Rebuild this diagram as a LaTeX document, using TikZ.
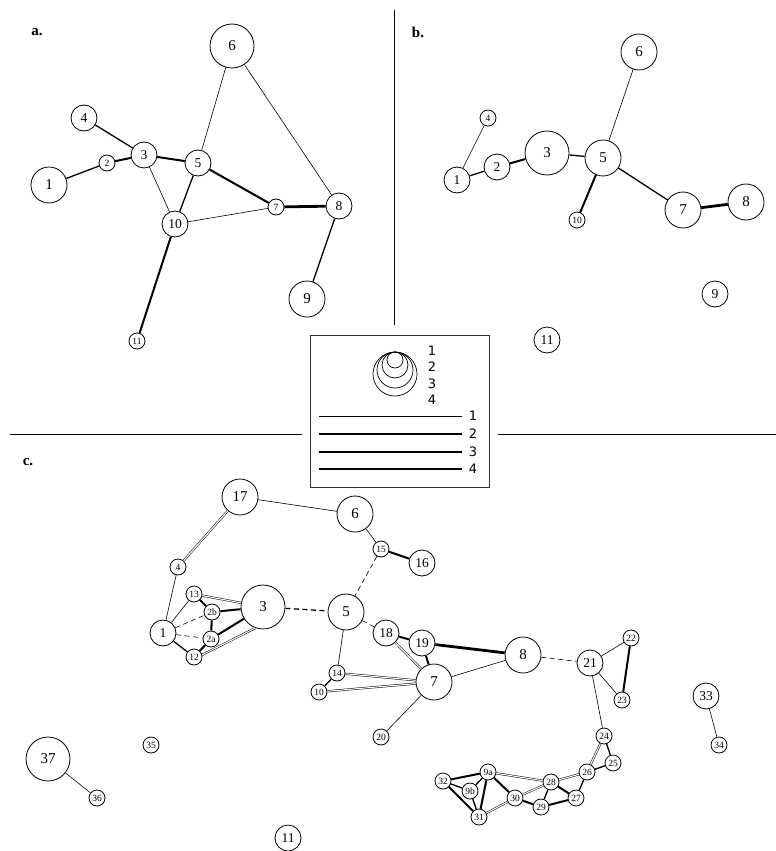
\documentclass[tikz,border=0pt]{standalone}
\usepackage{fontspec}
\setmainfont{Liberation Serif}
\newfontfamily\legendfont{DejaVu Sans}
\begin{document}
\begin{tikzpicture}[x=1pt,y=-1pt,
 nd/.style={circle,draw,line width=0.8pt,inner sep=0pt,fill=white},
 sa/.style={nd,minimum size=16pt,font=\fontsize{9.5}{10}\selectfont},
 sb/.style={nd,minimum size=26pt,font=\fontsize{13.5}{14}\selectfont},
 sc/.style={nd,minimum size=36pt,font=\fontsize{15}{15}\selectfont},
 sd/.style={nd,minimum size=44pt,font=\fontsize{15}{15}\selectfont},
 wa/.style={line width=0.6pt},
 wb/.style={line width=1.3pt},
 wc/.style={line width=2pt},
 wd/.style={line width=2.8pt},
 dbl/.style={double=white,double distance=1.1pt,line width=0.5pt},
 dsh/.style={dash pattern=on 5pt off 3.5pt},
 plabel/.style={font=\bfseries\fontsize{15}{15}\selectfont},
 legnum/.style={font=\legendfont\fontsize{13}{13}\selectfont,inner sep=0pt}
]
\fill[white] (0,0) rectangle (776,851);
\useasboundingbox (0,0) rectangle (776,851);

% dividers
\draw[line width=0.8pt] (394,10) -- (394,325);
\draw[line width=0.8pt] (10,434) -- (302,434);
\draw[line width=0.8pt] (498,434) -- (776,434);

% panel labels
\node[plabel] (la) at (37,32) {a.};
\node[plabel] (lb) at (418,32) {b.};
\node[plabel] (lc) at (28,462) {c.};

% ---------- panel a ----------
\node[sc] (a1) at (49,185) {1};
\node[sa] (a2) at (107,163) {2};
\node[sb] (a3) at (144,155) {3};
\node[sb] (a4) at (84,118) {4};
\node[sb] (a5) at (198,163) {5};
\node[sd] (a6) at (232,46) {6};
\node[sa] (a7) at (276,207) {7};
\node[sb] (a8) at (339,206) {8};
\node[sc] (a9) at (307,299) {9};
\node[sb] (a10) at (175,224) {10};
\node[sa] (a11) at (137,341) {11};
\draw[wb] (a1) -- (a2);
\draw[wc] (a2) -- (a3);
\draw[wb] (a4) -- (a3);
\draw[wc] (a3) -- (a5);
\draw[wa] (a3) -- (a10);
\draw[wa] (a5) -- (a6);
\draw[wc] (a5) -- (a7);
\draw[wb] (a5) -- (a10);
\draw[wa] (a10) -- (a7);
\draw[wd] (a7) -- (a8);
\draw[wa] (a6) -- (a8);
\draw[wb] (a8) -- (a9);
\draw[wc] (a10) -- (a11);

% ---------- panel b ----------
\node[sb] (b1) at (457,180) {1};
\node[sb] (b2) at (497,167) {2};
\node[sd] (b3) at (547,153) {3};
\node[sa] (b4) at (488,118) {4};
\node[sc] (b5) at (603,158) {5};
\node[sc] (b6) at (639,52) {6};
\node[sc] (b7) at (683,210) {7};
\node[sc] (b8) at (746,202) {8};
\node[sb] (b9) at (715,294) {9};
\node[sa] (b10) at (577,220) {10};
\node[sb] (b11) at (547,340) {11};
\draw[wa] (b1) -- (b4);
\draw[wb] (b1) -- (b2);
\draw[wc] (b2) -- (b3);
\draw[wb] (b3) -- (b5);
\draw[wa] (b5) -- (b6);
\draw[wc] (b5) -- (b10);
\draw[wb] (b5) -- (b7);
\draw[wd] (b7) -- (b8);

% ---------- legend ----------
\draw[line width=1pt,black!80] (310,335) rectangle (489,487);
\foreach \r in {22,18,13,8} \draw[line width=0.7pt] (395,352+\r) circle[radius=\r];
\node[legnum] (g1) at (432,351) {1};
\node[legnum] (g2) at (432,367) {2};
\node[legnum] (g3) at (432,384) {3};
\node[legnum] (g4) at (432,400) {4};
\coordinate (l1a) at (319,416); \coordinate (l1b) at (462,416);
\coordinate (l2a) at (319,434); \coordinate (l2b) at (462,434);
\coordinate (l3a) at (319,452); \coordinate (l3b) at (462,452);
\coordinate (l4a) at (319,469); \coordinate (l4b) at (462,469);
\draw[wa] (l1a) -- (l1b);
\draw[wb] (l2a) -- (l2b);
\draw[wc] (l3a) -- (l3b);
\draw[wd] (l4a) -- (l4b);
\node[legnum] (h1) at (473,416) {1};
\node[legnum] (h2) at (473,434) {2};
\node[legnum] (h3) at (473,452) {3};
\node[legnum] (h4) at (473,469) {4};

% ---------- panel c ----------
\node[sc] (c17) at (240,497) {17};
\node[sc] (c6) at (355,514) {6};
\node[sa] (c15) at (381,549) {15};
\node[sb] (c16) at (422,563) {16};
\node[sa] (c4) at (178,567) {4};
\node[sa] (c13) at (194,594) {13};
\node[sa] (c2b) at (212,612) {2b};
\node[sd] (c3) at (263,607) {3};
\node[sc] (c5) at (346,612) {5};
\node[sb] (c1) at (163,633) {1};
\node[sa] (c2a) at (211,639) {2a};
\node[sa] (c12) at (194,657) {12};
\node[sb] (c18) at (386,633) {18};
\node[sb] (c19) at (422,643) {19};
\node[sc] (c8) at (523,655) {8};
\node[sb] (c21) at (590,663) {21};
\node[sa] (c22) at (631,638) {22};
\node[sa] (c14) at (337,673) {14};
\node[sa] (c10) at (319,692) {10};
\node[sc] (c7) at (434,682) {7};
\node[sa] (c20) at (381,737) {20};
\node[sa] (c23) at (622,700) {23};
\node[sb] (c33) at (706,696) {33};
\node[sa] (c34) at (719,745) {34};
\node[sa] (c24) at (604,736) {24};
\node[sa] (c25) at (613,763) {25};
\node[sa] (c26) at (587,772) {26};
\node[sa] (c27) at (576,798) {27};
\node[sa] (c28) at (551,782) {28};
\node[sa] (c29) at (541,807) {29};
\node[sa] (c30) at (515,798) {30};
\node[sa] (c9a) at (488,772) {9a};
\node[sa] (c9b) at (470,791) {9b};
\node[sa] (c32) at (443,781) {32};
\node[sa] (c31) at (479,817) {31};
\node[sd] (c37) at (48,759) {37};
\node[sa] (c36) at (97,798) {36};
\node[sa] (c35) at (151,745) {35};
\node[sb] (c11) at (288,838) {11};

\draw[wa] (c17) -- (c6);
\draw[dbl] (c17) -- (c4);
\draw[wa] (c4) -- (c1);
\draw[wa] (c6) -- (c15);
\draw[wc] (c15) -- (c16);
\draw[wa,dsh] (c15) -- (c5);
\draw[wb,dsh] (c3) -- (c5);
\draw[wa] (c1) -- (c13);
\draw[wb] (c1) -- (c12);
\draw[wa,dsh] (c1) -- (c2b);
\draw[wa,dsh] (c1) -- (c2a);
\draw[wc] (c13) -- (c2b);
\draw[dbl] (c13) -- (c3);
\draw[wc] (c2b) -- (c3);
\draw[wc] (c2b) -- (c2a);
\draw[wc] (c2a) -- (c3);
\draw[wc] (c12) -- (c2a);
\draw[dbl] (c12.15) -- (c3.250);
\draw[wa,dsh] (c5) -- (c18);
\draw[wa] (c5) -- (c14);
\draw[wb] (c14) -- (c10);
\draw[dbl] (c14) -- (c7);
\draw[dbl] (c10) -- (c7);
\draw[wc] (c18) -- (c19);
\draw[dbl] (c18) -- (c7);
\draw[wc] (c19) -- (c7);
\draw[wd] (c19) -- (c8);
\draw[wa] (c7) -- (c8);
\draw[wa] (c7) -- (c20);
\draw[wa,dsh] (c8) -- (c21);
\draw[wa] (c21) -- (c22);
\draw[wc] (c22) -- (c23);
\draw[wa] (c21) -- (c23);
\draw[wa] (c21) -- (c24);
\draw[dbl] (c24) -- (c26);
\draw[wb] (c24) -- (c25);
\draw[wb] (c25) -- (c26);
\draw[dbl] (c26) -- (c28);
\draw[wb] (c26) -- (c27);
\draw[wc] (c28) -- (c27);
\draw[wc] (c27) -- (c29);
\draw[wb] (c28) -- (c29);
\draw[dbl] (c28) -- (c30);
\draw[wc] (c29) -- (c30);
\draw[dbl] (c9a) -- (c28);
\draw[wc] (c9a) -- (c30);
\draw[wc] (c9a) -- (c32);
\draw[wb] (c9a) -- (c9b);
\draw[wc] (c9a) -- (c31);
\draw[wb] (c32) -- (c9b);
\draw[wc] (c32) -- (c31);
\draw[wb] (c9b) -- (c31);
\draw[dbl] (c31) -- (c30);
\draw[wa] (c33) -- (c34);
\draw[wa] (c37) -- (c36);
\end{tikzpicture}
\end{document}
